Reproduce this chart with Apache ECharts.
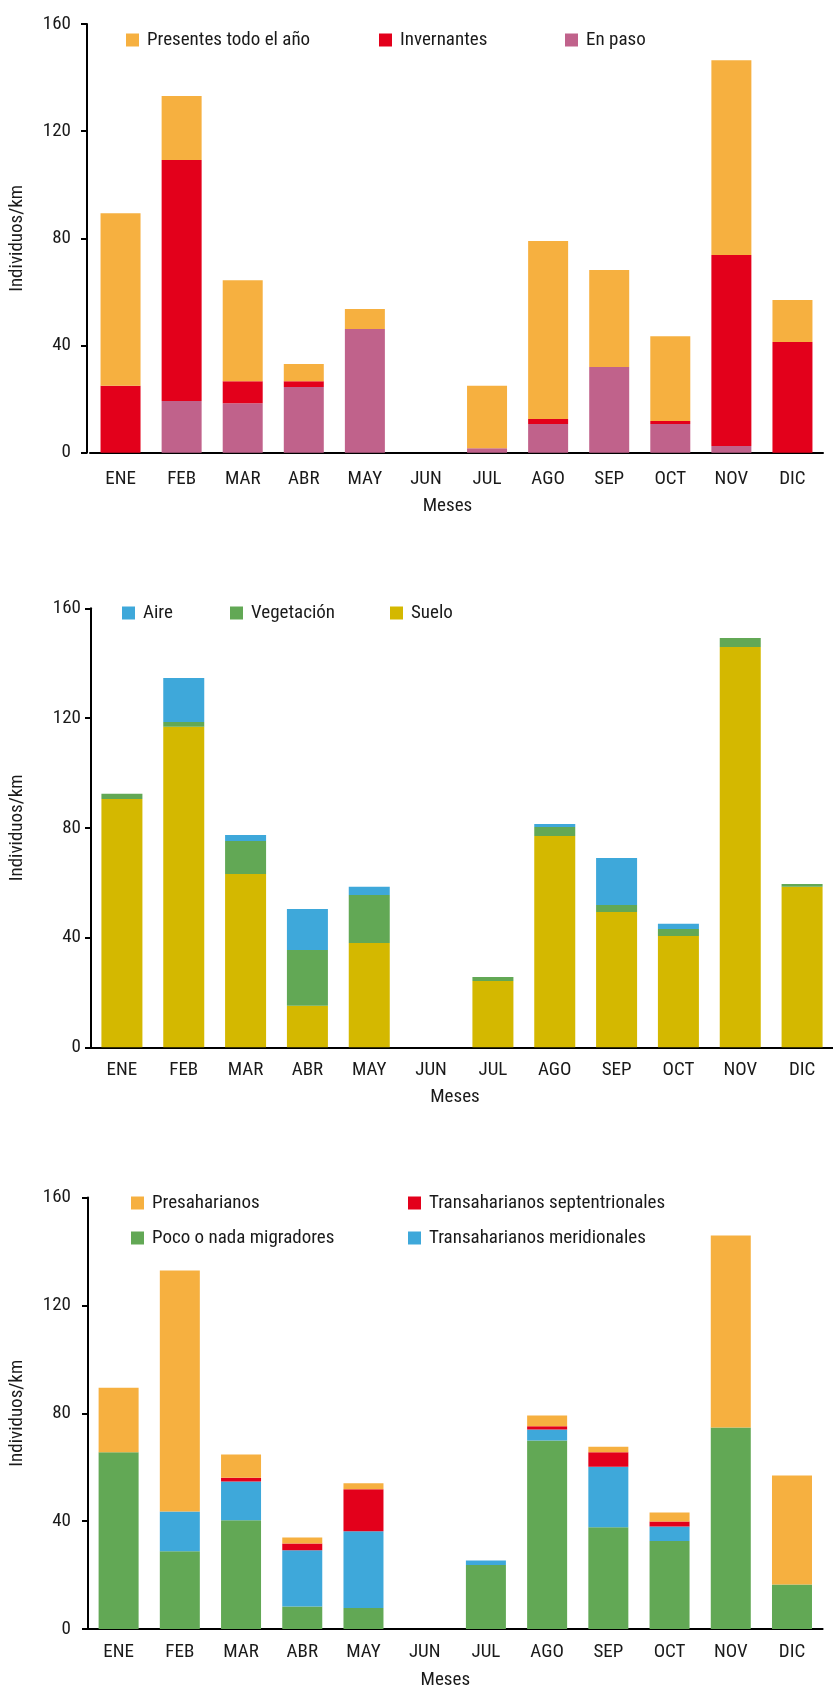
<!DOCTYPE html>
<html>
<head>
<meta charset="utf-8">
<script src="https://cdn.jsdelivr.net/npm/echarts@6/dist/echarts.min.js"></script>
<style>
html,body{margin:0;padding:0;background:#fff;}
#c{width:833px;height:1691px;}
</style>
</head>
<body>
<div id="c"></div>
<script>
// ---- data ----
const months = ['ENE','FEB','MAR','ABR','MAY','JUN','JUL','AGO','SEP','OCT','NOV','DIC'];
const yMin = 0, yMax = 160, yStep = 40;
const yTitle = 'Individuos/km';
const xTitle = 'Meses';

// Chart 1
const presentes   = [64.4, 23.9, 37.7, 6.4, 7.4, 0, 23.3, 66.4, 36.2, 31.7, 72.7, 15.7];
const invernantes = [25, 89.9, 8.2, 2.2, 0, 0, 0, 1.9, 0, 1.1, 71.3, 41.3];
const enPaso      = [0, 19.3, 18.5, 24.5, 46.2, 0, 1.7, 10.7, 32, 10.7, 2.5, 0];

// Chart 2
const aire       = [0, 16, 2.2, 14.9, 3, 0, 0, 1.1, 17.1, 1.9, 0, 0];
const vegetacion = [1.9, 1.8, 12, 20.4, 17.5, 0, 1.4, 3.3, 2.6, 2.5, 3.3, 1.0];
const suelo      = [90.5, 116.8, 63.2, 15.1, 38, 0, 24.2, 77, 49.3, 40.6, 145.9, 58.5];

// Chart 3
const presaharianos   = [24, 89.3, 8.6, 2.2, 2.2, 0, 0, 4, 2.1, 3.3, 71.2, 40.4];
const septentrionales = [0, 0, 1.4, 2.5, 15.6, 0, 0, 1.2, 5.3, 1.9, 0, 0];
const pocoNada        = [65.5, 28.8, 40.3, 8.3, 7.8, 0, 23.7, 69.9, 37.7, 32.6, 74.7, 16.5];
const meridionales    = [0, 14.8, 14.4, 20.9, 28.4, 0, 1.7, 4.1, 22.5, 5.4, 0, 0];

// ---- styles ----
const FONT = "'Roboto Condensed','DejaVu Sans Condensed',sans-serif";
const TXT = '#1a1a1a';
const FS = 19;
const C = {
  orange: '#F6B040', red: '#E3001B', pink: '#C0628B',
  blue: '#3EA8DA', green: '#62A855', yellow: '#D4B800'
};

function xAxis(gi, labelMargin, nameGap, namePadRight){
  return {
    type:'category', gridIndex:gi, data:months,
    axisLine:{show:true, lineStyle:{color:'#000', width:2}},
    axisTick:{show:false},
    axisLabel:{color:TXT, fontFamily:FONT, fontSize:FS, margin:labelMargin},
    name:xTitle, nameLocation:'middle', nameGap:nameGap,
    nameTextStyle:{color:TXT, fontFamily:FONT, fontSize:FS, padding:[0,namePadRight,0,0]}
  };
}
function yAxis(gi, offset, labelMargin, nameGap){
  return {
    type:'value', gridIndex:gi, min:yMin, max:yMax, interval:yStep, offset:offset,
    axisLine:{show:true, lineStyle:{color:'#000', width:2}},
    axisTick:{show:true, length:6, lineStyle:{color:'#000', width:2}},
    splitLine:{show:false},
    axisLabel:{color:TXT, fontFamily:FONT, fontSize:FS, margin:labelMargin},
    name:yTitle, nameLocation:'middle', nameGap:nameGap, nameRotate:90,
    nameTextStyle:{color:TXT, fontFamily:FONT, fontSize:FS}
  };
}
function bar(name, data, color, gi, stack, bw){
  return {
    type:'bar', name:name, data:data, xAxisIndex:gi, yAxisIndex:gi,
    stack:stack, barWidth:bw, itemStyle:{color:color}, silent:true,
    emphasis:{disabled:true}, animation:false
  };
}
function leg(name, left, cy){
  return {
    data:[name], left:left, top:cy-10, padding:0,
    icon:'rect', itemWidth:13, itemHeight:13,
    selectedMode:false,
    textStyle:{color:TXT, fontFamily:FONT, fontSize:FS, lineHeight:20, padding:[0,0,0,3]}
  };
}

const option = {
  animation:false,
  backgroundColor:'#fff',
  grid:[
    {left:89, top:24, width:734, height:428.7},
    {left:89.3, top:608.3, width:752, height:439},
    {left:87.4, top:1197.5, width:735.2, height:433.5}
  ],
  xAxis:[ xAxis(0, 17, 44, 18), xAxis(1, 13, 40, 14), xAxis(2, 14, 42, 20) ],
  yAxis:[ yAxis(0, 3, 16, 60), yAxis(1, 0, 10, 64), yAxis(2, 0, 17, 61) ],
  legend:[
    leg('Presentes todo el año', 126, 40),
    leg('Invernantes', 379, 40),
    leg('En paso', 565, 40),
    leg('Aire', 122, 613),
    leg('Vegetación', 230, 613),
    leg('Suelo', 390, 613),
    leg('Presaharianos', 131, 1203),
    leg('Transaharianos septentrionales', 408, 1203),
    leg('Poco o nada migradores', 131, 1238),
    leg('Transaharianos meridionales', 408, 1238)
  ],
  series:[
    bar('En paso', enPaso, C.pink, 0, 's1', 40),
    bar('Invernantes', invernantes, C.red, 0, 's1', 40),
    bar('Presentes todo el año', presentes, C.orange, 0, 's1', 40),

    bar('Suelo', suelo, C.yellow, 1, 's2', 41),
    bar('Vegetación', vegetacion, C.green, 1, 's2', 41),
    bar('Aire', aire, C.blue, 1, 's2', 41),

    bar('Poco o nada migradores', pocoNada, C.green, 2, 's3', 40),
    bar('Transaharianos meridionales', meridionales, C.blue, 2, 's3', 40),
    bar('Transaharianos septentrionales', septentrionales, C.red, 2, 's3', 40),
    bar('Presaharianos', presaharianos, C.orange, 2, 's3', 40)
  ]
};
const chart = echarts.init(document.getElementById('c'), null, {renderer:'canvas'});
chart.setOption(option);
</script>
</body>
</html>
